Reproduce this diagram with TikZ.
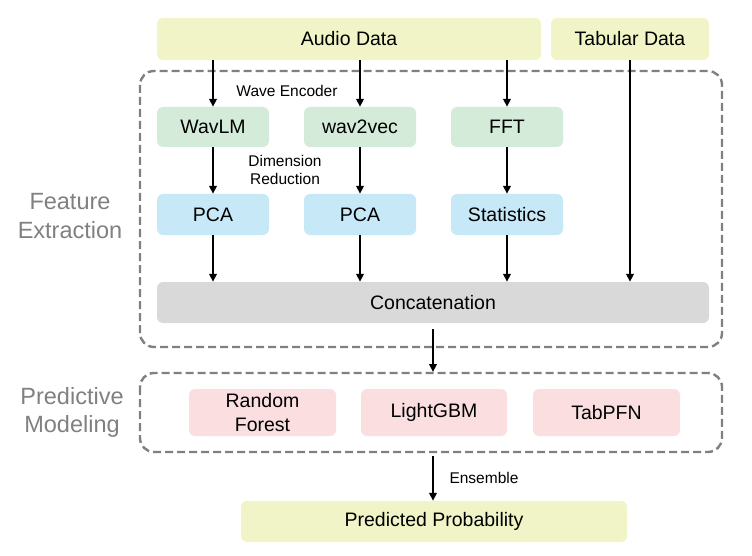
\documentclass[tikz,border=0pt]{standalone}
\usepackage{fontspec}
\setmainfont{Liberation Sans}
\usetikzlibrary{arrows.meta}
\definecolor{cyellow}{HTML}{F0F4C6}
\definecolor{cgreen}{HTML}{D5EBD9}
\definecolor{cblue}{HTML}{C6E8F7}
\definecolor{cpink}{HTML}{FADEE0}
\definecolor{cgray}{HTML}{D9D9D9}
\definecolor{cdash}{HTML}{808080}
\begin{document}
\begin{tikzpicture}[x=1pt,y=-1pt,
  box/.style={rounded corners=6pt, inner sep=0pt, font=\fontsize{19.5}{23}\selectfont, align=center, minimum height=41pt},
  yel/.style={box, fill=cyellow},
  grn/.style={box, fill=cgreen, minimum width=112pt, minimum height=40pt},
  blu/.style={box, fill=cblue, minimum width=112pt},
  pnk/.style={box, fill=cpink, minimum height=47pt},
  grp/.style={draw=cdash, line width=2.4pt, dash pattern=on 8pt off 4pt, rounded corners=14pt},
  arr/.style={-{Triangle[length=8pt,width=7.5pt]}, line width=2pt},
  small/.style={font=\fontsize{15.5}{18}\selectfont, align=center},
  side/.style={font=\fontsize{23.5}{28.5}\selectfont, text=cdash, align=center}]
\useasboundingbox (0,0) rectangle (752,556);
% groups
\draw[grp] (140,71) rectangle (722,347);
\draw[grp] (140,373) rectangle (722,452);
\coordinate (c1) at (433,329);
\coordinate (pmtop) at (433,372);
\coordinate (pmbot) at (433,456);
% inputs
\node[yel, minimum width=384pt, minimum height=42pt] (audio) at (349,39) {Audio Data};
\node[yel, minimum width=158pt, minimum height=42pt] (tab) at (630,39) {Tabular Data};
% encoders
\node[grn] (wavlm) at (213,127) {WavLM};
\node[grn] (w2v) at (360,127) {wav2vec};
\node[grn] (fft) at (507,127) {FFT};
% reductions
\node[blu] (pca1) at (213,214.5) {PCA};
\node[blu] (pca2) at (360,214.5) {PCA};
\node[blu] (stat) at (507,214.5) {Statistics};
% concat
\node[box, fill=cgray, minimum width=552pt] (concat) at (433,302.5) {Concatenation};
% models
\node[pnk, minimum width=147pt, font=\fontsize{19.5}{24}\selectfont] (rf) at (262.5,412.5) {Random\\Forest};
\node[pnk, minimum width=146pt] (lgbm) at (434,412.5) {LightGBM};
\node[pnk, minimum width=147pt] (tabpfn) at (606.5,412.5) {TabPFN};
% output
\node[yel, minimum width=386pt] (pred) at (434,521.5) {Predicted Probability};
% labels
\node[small] (we) at (287,90.5) {Wave Encoder};
\node[small] (dr) at (285,170) {Dimension\\Reduction};
\node[small, anchor=west] (ens) at (446,477.5) {Ensemble};
\node[side] (fe) at (70,216) {Feature\\Extraction};
\node[side] (pm) at (72,412.5) {Predictive\\Modeling};
% arrows
\draw[arr] (audio.south -| wavlm) -- (wavlm.north);
\draw[arr] (audio.south -| w2v) -- (w2v.north);
\draw[arr] (audio.south -| fft) -- (fft.north);
\draw[arr] (tab.south) -- (concat.north -| tab);
\draw[arr] (wavlm.south) -- (pca1.north);
\draw[arr] (w2v.south) -- (pca2.north);
\draw[arr] (fft.south) -- (stat.north);
\draw[arr] (pca1.south) -- (concat.north -| pca1);
\draw[arr] (pca2.south) -- (concat.north -| pca2);
\draw[arr] (stat.south) -- (concat.north -| stat);
\draw[arr] (c1) -- (pmtop);
\draw[arr] (pmbot) -- (pred.north -| pmbot);
\end{tikzpicture}
\end{document}
